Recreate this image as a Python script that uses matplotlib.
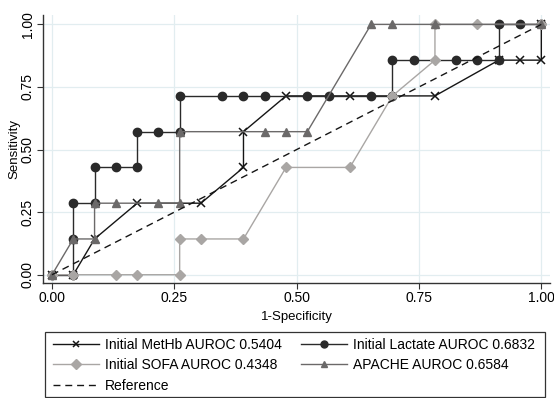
import numpy as np
import matplotlib.pyplot as plt
from matplotlib.patches import Rectangle

plt.rcParams['font.family'] = ['Liberation Sans', 'DejaVu Sans']

# ROC points (23 negatives, 7 positives)
n = 23.0
p = 7.0

methb_x = np.array([0, 1, 2, 4, 7, 9, 9, 11, 14, 18, 21, 22, 23, 23]) / n
methb_y = np.array([0, 0, 1, 2, 2, 3, 4, 5, 5, 5, 6, 6, 6, 7]) / p

lact_x = np.array([0, 1, 1, 1, 2, 2, 3, 4, 4, 5, 6, 6, 8, 9, 10, 12, 13, 15, 16, 16, 17, 19, 20, 21, 21, 22, 23]) / n
lact_y = np.array([0, 0, 1, 2, 2, 3, 3, 3, 4, 4, 4, 5, 5, 5, 5, 5, 5, 5, 5, 6, 6, 6, 6, 6, 7, 7, 7]) / p

sofa_x = np.array([0, 1, 3, 4, 6, 6, 7, 9, 11, 14, 16, 18, 18, 20, 23]) / n
sofa_y = np.array([0, 0, 0, 0, 0, 1, 1, 1, 3, 3, 5, 6, 7, 7, 7]) / p

apache_x = np.array([0, 1, 2, 2, 3, 5, 6, 6, 10, 11, 12, 15, 16, 18, 23]) / n
apache_y = np.array([0, 1, 1, 2, 2, 2, 2, 4, 4, 4, 4, 7, 7, 7, 7]) / p

labels = ['Initial MetHb AUROC 0.5404', 'Initial Lactate AUROC 0.6832',
          'Initial SOFA AUROC 0.4348', 'APACHE AUROC 0.6584', 'Reference']
ticks = [0, 0.25, 0.5, 0.75, 1.0]

fig = plt.figure(figsize=(5.54, 3.98), dpi=100)
ax = fig.add_axes([0.078, 0.289, 0.915, 0.673])

grid_col = '#e2edf0'
for t in ticks:
    ax.axhline(t, color=grid_col, lw=0.9, zorder=0)
    ax.axvline(t, color=grid_col, lw=0.9, zorder=0)

h1, = ax.plot(methb_x, methb_y, color='#151515', lw=1.0, marker='x', ms=6, mew=1.1, zorder=3)
h2, = ax.plot(lact_x, lact_y, color='#2a2a2a', lw=1.0, marker='o', ms=6, mec='#2a2a2a', zorder=3)
h3, = ax.plot(sofa_x, sofa_y, color='#a9a6a4', lw=1.0, marker='D', ms=5.5, mec='#a9a6a4', zorder=3)
h4, = ax.plot(apache_x, apache_y, color='#6b6969', lw=1.0, marker='^', ms=6, mec='#6b6969', zorder=3)
h5, = ax.plot([0, 1], [0, 1], color='#151515', lw=1.0, ls=(0, (5, 3.5)), zorder=4)

ax.set_xlim(-0.018, 1.018)
ax.set_ylim(-0.033, 1.037)
ax.set_xticks(ticks)
ax.set_yticks(ticks)
ax.set_xticklabels(['%.2f' % t for t in ticks], fontsize=10)
ax.set_yticklabels(['%.2f' % t for t in ticks], fontsize=10, rotation=90, va='center')
ax.tick_params(length=4, width=0.8, color='#333333', pad=2)
for s in ['top', 'right']:
    ax.spines[s].set_visible(False)
for s in ['left', 'bottom']:
    ax.spines[s].set_color('#333333')
    ax.spines[s].set_linewidth(1.0)

ax.set_xlabel('1-Specificity', fontsize=9.5, labelpad=4)
ax.set_ylabel('Sensitivity', fontsize=9.5, va='center')
ax.yaxis.set_label_coords(-0.057, 0.5)

# legend box drawn separately so it spans the full width
fig.patches.append(Rectangle((45 / 554, 1 / 398), 500 / 554, 65 / 398,
                             transform=fig.transFigure, fill=False,
                             edgecolor='#333333', lw=0.9))
leg = fig.legend([h1, h3, h5, h2, h4],
                 [labels[0], labels[2], labels[4], labels[1], labels[3]],
                 ncol=2, loc='upper left', bbox_to_anchor=(53 / 554, 1 - 338 / 398),
                 fontsize=10, frameon=False, handlelength=3.3, handletextpad=0.45,
                 columnspacing=1.35, labelspacing=0.45, borderaxespad=0,
                 borderpad=0)
for lh in leg.legend_handles:
    lh.set_markersize(5)

fig.savefig('out.png', dpi=100)
